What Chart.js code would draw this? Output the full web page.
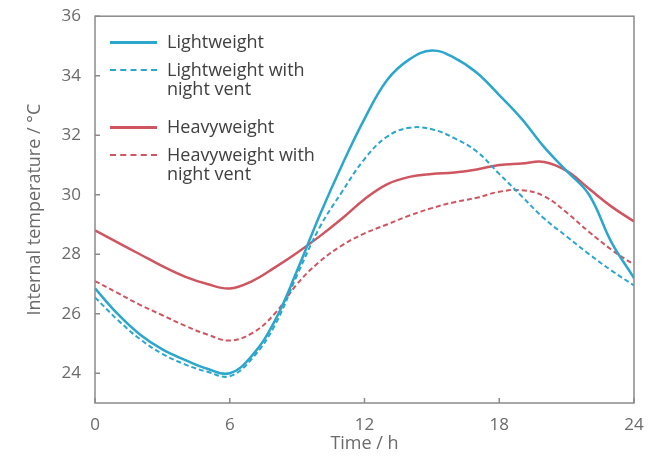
<!DOCTYPE html>
<html>
<head>
<meta charset="utf-8">
<script src="https://cdn.jsdelivr.net/npm/chart.js@4/dist/chart.umd.min.js"></script>
<style>
  html, body { margin: 0; padding: 0; background: #fff; }
  #wrap { position: relative; width: 653px; height: 459px; }
  #legend { position: absolute; left: 0; top: 0; font-family: "Open Sans", sans-serif; font-size: 18px; color: #404040; }
  .entry { position: absolute; left: 110px; line-height: 19px; white-space: nowrap; }
  .swatch { position: absolute; left: 0; top: 9px; width: 47px; height: 0; }
  .text { position: absolute; left: 57px; top: 0; }
</style>
</head>
<body>
<div id="wrap">
  <canvas id="chart" width="653" height="459"></canvas>
  <div id="legend"></div>
</div>
<script>
const hours = [0, 1, 2, 3, 4, 5, 6, 7, 8, 9, 10, 11, 12, 13, 14, 15, 16, 17, 18, 19, 20, 21, 22, 23, 24];
const lightweight = [26.85, 26.0, 25.3, 24.8, 24.45, 24.15, 24.0, 24.6, 25.75, 27.45, 29.3, 31.0, 32.55, 33.85, 34.55, 34.85, 34.6, 34.1, 33.35, 32.55, 31.6, 30.8, 30.0, 28.4, 27.2];
const lightweightVent = [26.55, 25.8, 25.15, 24.65, 24.3, 24.05, 23.9, 24.5, 25.6, 27.3, 28.9, 30.1, 31.2, 31.95, 32.25, 32.2, 31.9, 31.45, 30.7, 29.95, 29.2, 28.6, 28.0, 27.45, 26.95];
const heavyweight = [28.8, 28.4, 28.0, 27.6, 27.25, 27.0, 26.85, 27.1, 27.55, 28.05, 28.6, 29.2, 29.85, 30.35, 30.6, 30.7, 30.75, 30.85, 31.0, 31.05, 31.1, 30.8, 30.2, 29.6, 29.1];
const heavyweightVent = [27.1, 26.7, 26.3, 25.95, 25.6, 25.3, 25.1, 25.35, 26.0, 27.0, 27.75, 28.3, 28.7, 29.0, 29.3, 29.55, 29.75, 29.9, 30.1, 30.15, 29.95, 29.4, 28.75, 28.15, 27.65];
const seriesLabels = [["Lightweight"], ["Lightweight with", "night vent"], ["Heavyweight"], ["Heavyweight with", "night vent"]];
const xTicks = [0, 6, 12, 18, 24];
const yTicks = [24, 26, 28, 30, 32, 34, 36];

const blue = "#2ba6cc";
const red = "#cf5560";
const axisColor = "#8a8a8a";

function points(values) {
  return values.map((v, i) => ({ x: hours[i], y: v }));
}

// box round the plot area, with short ticks pointing inwards
const framePlugin = {
  id: "frame",
  afterDraw(chart) {
    const ctx = chart.ctx;
    const a = chart.chartArea;
    const xs = chart.scales.x;
    const ys = chart.scales.y;
    ctx.save();
    ctx.strokeStyle = axisColor;
    ctx.lineWidth = 1.5;
    ctx.strokeRect(a.left, a.top, a.right - a.left, a.bottom - a.top);
    ctx.beginPath();
    xTicks.forEach(t => {
      const px = xs.getPixelForValue(t);
      ctx.moveTo(px, a.bottom);
      ctx.lineTo(px, a.bottom - 5);
    });
    yTicks.forEach(t => {
      const py = ys.getPixelForValue(t);
      ctx.moveTo(a.left, py);
      ctx.lineTo(a.left + 5, py);
    });
    ctx.stroke();
    ctx.restore();
  }
};

const datasets = [
  { label: seriesLabels[0].join(" "), data: points(lightweight), borderColor: blue, borderWidth: 2.5 },
  { label: seriesLabels[1].join(" "), data: points(lightweightVent), borderColor: blue, borderWidth: 2, borderDash: [5, 3] },
  { label: seriesLabels[2].join(" "), data: points(heavyweight), borderColor: red, borderWidth: 2.5 },
  { label: seriesLabels[3].join(" "), data: points(heavyweightVent), borderColor: red, borderWidth: 2, borderDash: [5, 3] }
];

const tickFont = { family: "'Open Sans', sans-serif", size: 17 };
const titleFont = { family: "'Open Sans', sans-serif", size: 18 };

const chart = new Chart(document.getElementById("chart").getContext("2d"), {
  type: "line",
  data: { datasets },
  options: {
    responsive: false,
    animation: false,
    layout: { padding: { left: 20, right: 19, top: 16, bottom: 0 } },
    elements: {
      point: { radius: 0 },
      line: { tension: 0.4, fill: false }
    },
    plugins: { legend: { display: false }, tooltip: { enabled: false } },
    scales: {
      x: {
        type: "linear",
        min: 0,
        max: 24,
        afterBuildTicks: s => { s.ticks = xTicks.map(v => ({ value: v })); },
        afterFit: s => { s.height = 56; },
        grid: { display: false },
        border: { display: false },
        ticks: { color: "#6a6a6a", font: tickFont, padding: 4, maxRotation: 0 },
        title: { display: true, text: "Time / h", color: "#6a6a6a", font: titleFont, padding: { top: 0 } }
      },
      y: {
        min: 23,
        max: 36,
        afterBuildTicks: s => { s.ticks = yTicks.map(v => ({ value: v })); },
        afterFit: s => { s.width = 75; },
        grid: { display: false },
        border: { display: false },
        ticks: { color: "#6a6a6a", font: tickFont, padding: 6 },
        title: { display: true, text: "Internal temperature / °C", color: "#6a6a6a", font: titleFont, padding: { bottom: 4 } }
      }
    }
  },
  plugins: [framePlugin]
});

// legend inside the plot, top left
const legendTops = [32, 60, 117, 145];
const legend = document.getElementById("legend");
datasets.forEach((ds, i) => {
  const entry = document.createElement("div");
  entry.className = "entry";
  entry.style.top = legendTops[i] + "px";
  const sw = document.createElement("div");
  sw.className = "swatch";
  sw.style.borderTop = (ds.borderDash ? "2px dashed " : "3px solid ") + ds.borderColor;
  const txt = document.createElement("div");
  txt.className = "text";
  txt.innerHTML = seriesLabels[i].join("<br>");
  entry.appendChild(sw);
  entry.appendChild(txt);
  legend.appendChild(entry);
});
</script>
</body>
</html>
